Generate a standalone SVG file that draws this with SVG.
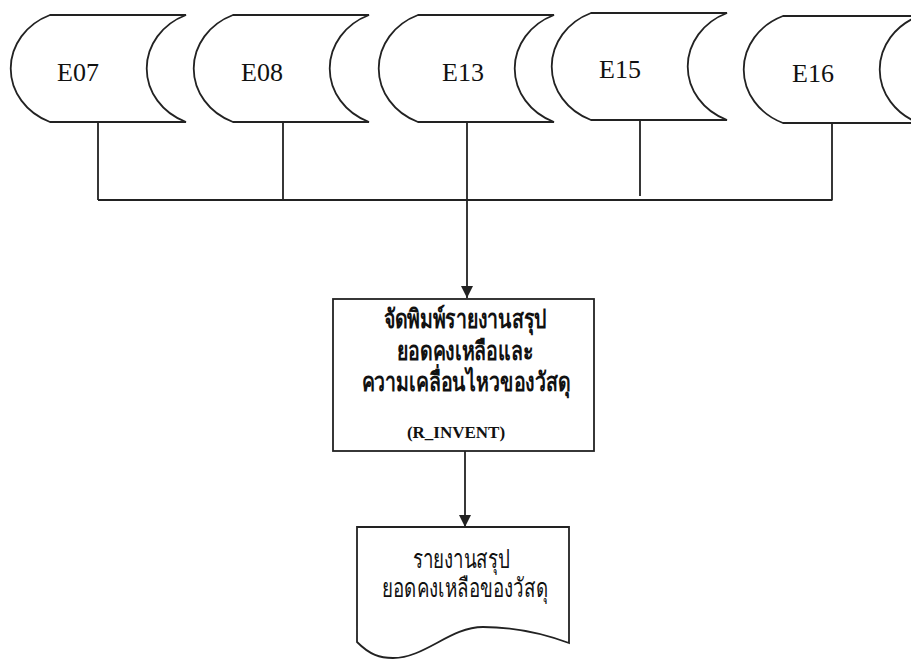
<svg xmlns="http://www.w3.org/2000/svg" width="911" height="659" viewBox="0 0 911 659">
<defs>
<style>
.shape{fill:#fff;stroke:#222;stroke-width:1.8;}
.ln{fill:none;stroke:#222;stroke-width:1.8;}
.lbl{font-family:"Liberation Serif","Times New Roman",serif;font-size:26px;fill:#111;text-anchor:middle;}
.th{font-family:"Liberation Serif",serif;fill:#111;text-anchor:middle;font-size:26px;}
.thb{font-weight:bold;}
.code{font-family:"Liberation Serif",serif;font-weight:bold;font-size:17px;fill:#111;text-anchor:middle;}
</style>
<path id="ds" d="M0,0 L136,0 A64 58 0 0 0 136,107 L0,107 A64 58 0 0 1 0,0 Z"/>
<marker id="ah" viewBox="0 0 12 12" refX="12" refY="6" markerWidth="12" markerHeight="12" markerUnits="userSpaceOnUse" orient="auto">
<path d="M0,0 L12,6 L0,12 Z" fill="#222"/>
</marker>
</defs>
<rect width="911" height="659" fill="#fff"/>
<g id="connectors">
<path class="ln" d="M98,122 V200 M283,122 V200 M640,121 V196 M832,123 V200.5 M98,200 H832"/>
<path class="ln" d="M467,123 V298" marker-end="url(#ah)"/>
<path class="ln" d="M465,451 V527" marker-end="url(#ah)"/>
</g>
<g id="E07">
<use href="#ds" class="shape" x="50" y="15"/>
<text class="lbl" font-family="Liberation Serif" x="78" y="81">E07</text>
</g>
<g id="E08">
<use href="#ds" class="shape" x="233" y="15"/>
<text class="lbl" font-family="Liberation Serif" x="262" y="81">E08</text>
</g>
<g id="E13">
<use href="#ds" class="shape" x="418" y="15"/>
<text class="lbl" font-family="Liberation Serif" x="463" y="81">E13</text>
</g>
<g id="E15">
<use href="#ds" class="shape" x="591" y="13"/>
<text class="lbl" font-family="Liberation Serif" x="620" y="78">E15</text>
</g>
<g id="E16">
<use href="#ds" class="shape" x="783" y="16"/>
<text class="lbl" font-family="Liberation Serif" x="813" y="82">E16</text>
</g>
<g id="R_INVENT">
<rect class="shape" x="333" y="299" width="261" height="152"/>
<text class="th thb" transform="translate(465,328) scale(0.75,1)">จัดพิมพ์รายงานสรุป</text>
<text class="th thb" transform="translate(465,360) scale(0.75,1)">ยอดคงเหลือและ</text>
<text class="th thb" transform="translate(466,391) scale(0.75,1)">ความเคลื่อนไหวของวัสดุ</text>
<text class="code" x="456" y="438">(R_INVENT)</text>
</g>
<g id="report">
<path class="shape" d="M357,527 H569 V643 C550,636 520,627 483,627 C450,627 425,658 393,658 C380,658 370,655 357,642 Z"/>
<text class="th" transform="translate(461,568) scale(0.72,1)">รายงานสรุป</text>
<text class="th" transform="translate(465,597) scale(0.72,1)">ยอดคงเหลือของวัสดุ</text>
</g>
</svg>
